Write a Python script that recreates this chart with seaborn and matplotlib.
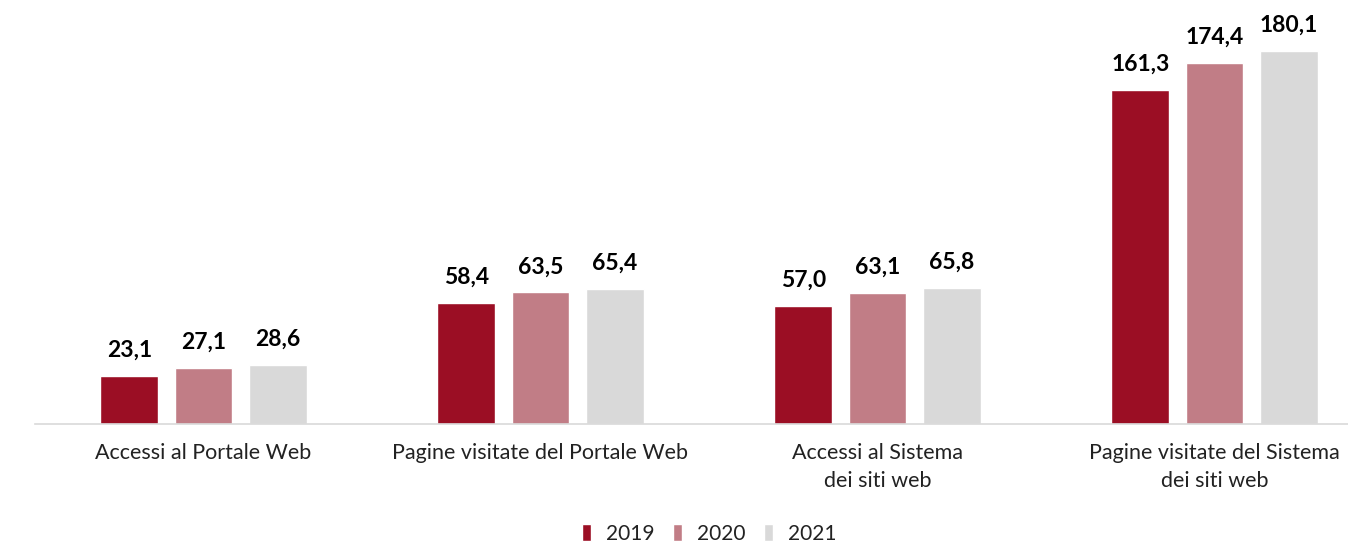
import matplotlib
matplotlib.use('Agg')
import matplotlib.pyplot as plt
import seaborn as sns
import pandas as pd

categories = ['Accessi al Portale Web', 'Pagine visitate del Portale Web',
              'Accessi al Sistema\ndei siti web', 'Pagine visitate del Sistema\ndei siti web']
years = ['2019', '2020', '2021']
v2019 = [23.1, 58.4, 57.0, 161.3]
v2020 = [27.1, 63.5, 63.1, 174.4]
v2021 = [28.6, 65.4, 65.8, 180.1]
colors = ['#9B0E24', '#C17D86', '#D9D9D9']

rows = []
for yr, vals in zip(years, [v2019, v2020, v2021]):
    for cat, v in zip(categories, vals):
        rows.append({'cat': cat, 'year': yr, 'val': v})
df = pd.DataFrame(rows)

sns.set_style('white')
plt.rcParams['font.family'] = ['Lato', 'DejaVu Sans']

fig = plt.figure(figsize=(13.48, 5.46), dpi=100)
ax = fig.add_axes([35 / 1348, 122 / 546, 1313 / 1348, 424 / 546])
sns.barplot(data=df, x='cat', y='val', hue='year', order=categories, hue_order=years,
            palette=colors, saturation=1, width=0.66, gap=0.22, ax=ax, legend=True)

for cont in ax.containers:
    ax.bar_label(cont, labels=[f'{v:.1f}'.replace('.', ',') for v in cont.datavalues],
                 padding=11, fontsize=16.5, fontweight='bold', color='black')

ax.set_xlim(-0.5, -0.5 + 1313 / 337)
ax.set_ylim(0, 424 / 2.071)
ax.set_xlabel('')
ax.set_ylabel('')
ax.set_yticks([])
for s in ['top', 'right', 'left']:
    ax.spines[s].set_visible(False)
ax.spines['bottom'].set_color('#d9d9d9')
ax.spines['bottom'].set_linewidth(1.2)
ax.tick_params(axis='x', length=0, pad=14, labelsize=15.5, labelcolor='#222222')
for t in ax.get_xticklabels():
    t.set_linespacing(1.45)
    t.set_verticalalignment('top')

leg = ax.legend(loc='lower center', bbox_to_anchor=((709 - 35) / 1313, -128 / 424), ncol=3, frameon=False,
                fontsize=15, handlelength=0.45, handleheight=0.9, columnspacing=0.9,
                handletextpad=0.7, borderaxespad=0.0)
for t in leg.get_texts():
    t.set_color('#222222')

fig.savefig('out.png', dpi=100)
